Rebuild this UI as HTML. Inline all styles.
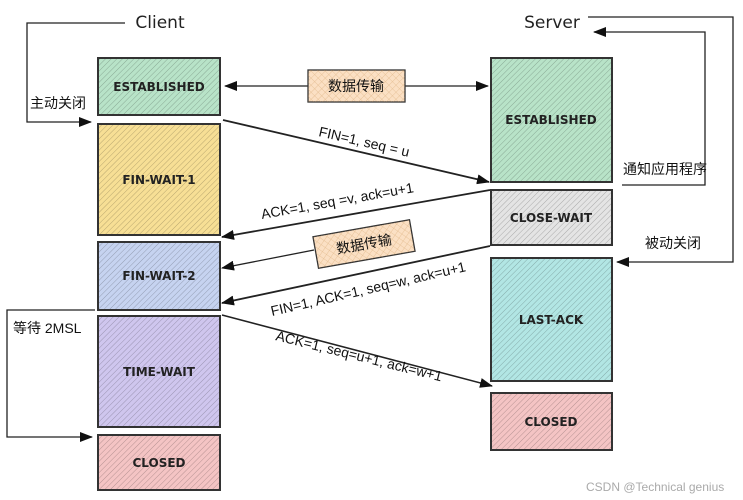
<!DOCTYPE html>
<html><head><meta charset="utf-8"><style>
html,body{margin:0;padding:0;background:#fff;}
svg{display:block;}
.st{font-family:"DejaVu Sans",sans-serif;font-size:12px;fill:#222;font-weight:bold;}
.lb{font-family:"Liberation Sans","Noto Sans CJK SC",sans-serif;font-size:14px;fill:#111;}
</style></head><body>
<svg width="743" height="500" viewBox="0 0 743 500" xmlns="http://www.w3.org/2000/svg">
<defs>
<pattern id="h" width="4" height="4" patternUnits="userSpaceOnUse" patternTransform="rotate(45)"><line x1="0" y1="0" x2="0" y2="4" stroke="#000" stroke-opacity="0.25" stroke-width="1"/></pattern>
<pattern id="x" width="5" height="5" patternUnits="userSpaceOnUse" patternTransform="rotate(45)"><path d="M0 0V5M0 0H5" stroke="#c9955a" stroke-opacity="0.5" stroke-width="0.8"/></pattern>
<marker id="a" markerWidth="13" markerHeight="10" refX="12" refY="5" orient="auto" markerUnits="userSpaceOnUse"><path d="M0 0L13 5L0 10Z" fill="#111"/></marker>
</defs>
<g stroke="#333" stroke-width="2">
<rect x="98" y="58" width="122" height="57" fill="#b8e3c8"/><rect x="98" y="58" width="122" height="57" fill="url(#h)"/>
<rect x="98" y="124" width="122" height="111" fill="#f7df95"/><rect x="98" y="124" width="122" height="111" fill="url(#h)"/>
<rect x="98" y="242" width="122" height="68" fill="#c6d3f0"/><rect x="98" y="242" width="122" height="68" fill="url(#h)"/>
<rect x="98" y="316" width="122" height="111" fill="#cfc6ee"/><rect x="98" y="316" width="122" height="111" fill="url(#h)"/>
<rect x="98" y="435" width="122" height="55" fill="#f4c4c4"/><rect x="98" y="435" width="122" height="55" fill="url(#h)"/>
<rect x="491" y="58" width="121" height="124" fill="#b8e3c8"/><rect x="491" y="58" width="121" height="124" fill="url(#h)"/>
<rect x="491" y="190" width="121" height="55" fill="#e4e4e4"/><rect x="491" y="190" width="121" height="55" fill="url(#h)"/>
<rect x="491" y="258" width="121" height="123" fill="#b2e6e4"/><rect x="491" y="258" width="121" height="123" fill="url(#h)"/>
<rect x="491" y="393" width="121" height="57" fill="#f4c4c4"/><rect x="491" y="393" width="121" height="57" fill="url(#h)"/>
</g>
<g class="st" text-anchor="middle">
<text x="159" y="91">ESTABLISHED</text>
<text x="159" y="184">FIN-WAIT-1</text>
<text x="159" y="280">FIN-WAIT-2</text>
<text x="159" y="376">TIME-WAIT</text>
<text x="159" y="467">CLOSED</text>
<text x="551" y="124">ESTABLISHED</text>
<text x="551" y="222">CLOSE-WAIT</text>
<text x="551" y="324">LAST-ACK</text>
<text x="551" y="426">CLOSED</text>
<text x="160" y="28" font-size="17" font-weight="normal">Client</text>
<text x="552" y="28" font-size="17" font-weight="normal">Server</text>
</g>
<g stroke="#222" stroke-width="1.3" fill="none">
<polyline points="125,23 27,23 27,122 91,122" marker-end="url(#a)"/>
<polyline points="588,17 733,17 733,262 617,262" marker-end="url(#a)"/>
<polyline points="622,185 705,185 705,32 594,32" marker-end="url(#a)"/>
<polyline points="95,310 7,310 7,437 92,437" marker-end="url(#a)"/>
<line x1="308" y1="86" x2="225" y2="86" marker-end="url(#a)"/>
<line x1="405" y1="86" x2="488" y2="86" marker-end="url(#a)"/>
<line x1="223" y1="120" x2="489" y2="182" stroke-width="1.8" marker-end="url(#a)"/>
<line x1="490" y1="190" x2="222" y2="237" stroke-width="1.8" marker-end="url(#a)"/>
<line x1="314" y1="250" x2="222" y2="268" marker-end="url(#a)"/>
<line x1="490" y1="246" x2="222" y2="303" stroke-width="1.8" marker-end="url(#a)"/>
<line x1="222" y1="315" x2="492" y2="386" stroke-width="1.5" marker-end="url(#a)"/>
</g>
<rect x="308" y="70" width="97" height="32" fill="#fbe0c4" stroke="#333" stroke-width="1.3"/>
<rect x="308" y="70" width="97" height="32" fill="url(#x)"/>
<text x="356" y="91" class="lb" text-anchor="middle">数据传输</text>
<g transform="rotate(-10 364 244)">
<rect x="315" y="228" width="98" height="32" fill="#fbe0c4" stroke="#333" stroke-width="1.3"/>
<rect x="315" y="228" width="98" height="32" fill="url(#x)"/>
<text x="364" y="249" class="lb" text-anchor="middle">数据传输</text>
</g>
<g class="lb">
<text x="30" y="108">主动关闭</text>
<text x="623" y="174">通知应用程序</text>
<text x="645" y="248">被动关闭</text>
<text x="13" y="333">等待 2MSL</text>
<text transform="translate(318,136) rotate(13)">FIN=1, seq = u</text>
<text transform="translate(262,219) rotate(-10)">ACK=1, seq =v, ack=u+1</text>
<text transform="translate(272,316) rotate(-13)">FIN=1, ACK=1, seq=w, ack=u+1</text>
<text transform="translate(275,340) rotate(14)">ACK=1, seq=u+1, ack=w+1</text>
</g>
<text x="586" y="491" font-family="Liberation Sans,sans-serif" font-size="12" fill="#aaa">CSDN @Technical genius</text>
</svg>
</body></html>
